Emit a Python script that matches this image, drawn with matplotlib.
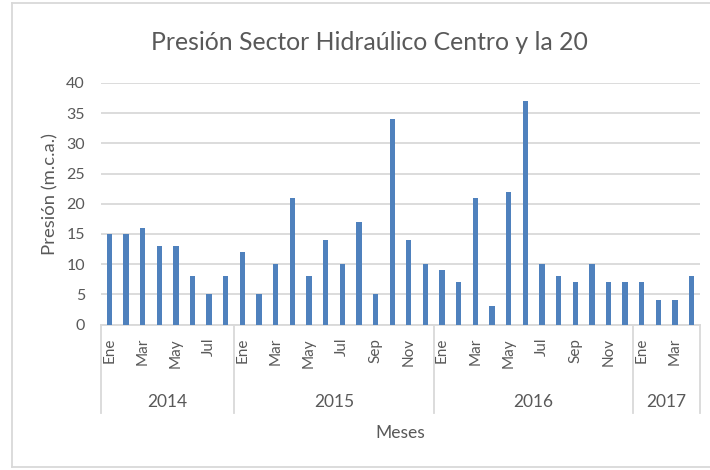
import matplotlib
matplotlib.use("Agg")
import matplotlib.pyplot as plt
import numpy as np
from matplotlib.lines import Line2D
from matplotlib.transforms import blended_transform_factory

plt.rcParams['font.family'] = ['Lato', 'DejaVu Sans']

# ---- data ----
years = ['2014', '2015', '2016', '2017']
month_names = ['Ene', 'Feb', 'Mar', 'Abr', 'May', 'Jun', 'Jul', 'Ago', 'Sep', 'Oct', 'Nov', 'Dic']
values_2014 = [15, 15, 16, 13, 13, 8, 5, 8]
values_2015 = [12, 5, 10, 21, 8, 14, 10, 17, 5, 34, 14, 10]
values_2016 = [9, 7, 21, 3, 22, 37, 10, 8, 7, 10, 7, 7]
values_2017 = [7, 4, 4, 8]
y_ticks = [0, 5, 10, 15, 20, 25, 30, 35, 40]

series = [values_2014, values_2015, values_2016, values_2017]
values = [v for s in series for v in s]
cat_months = [month_names[i] for s in series for i in range(len(s))]
n = len(values)
x = np.arange(n)

W, H = 710, 470
fig = plt.figure(figsize=(W / 100, H / 100), dpi=100)
fig.patch.set_facecolor('white')

def fx(px):
    return px / W

def fy(py):
    return 1 - py / H

left, right, top, bottom = 101, 700, 83, 324.5
ax = fig.add_axes([fx(left), fy(bottom), fx(right - left), (bottom - top) / H])

txt = '#595959'
grid = '#d9d9d9'
bar_c = '#4f81bd'

ax.bar(x, values, width=0.32, color=bar_c, zorder=3)
ax.set_xlim(-0.5, n - 0.5)
ax.set_ylim(0, 40)
ax.set_yticks(y_ticks)
ax.yaxis.grid(True, color=grid, linewidth=1.3, zorder=0)
ax.set_axisbelow(True)
for s in ['top', 'right', 'left']:
    ax.spines[s].set_visible(False)
ax.spines['bottom'].set_color(grid)
ax.spines['bottom'].set_linewidth(1.3)
ax.tick_params(axis='y', length=0, pad=11.5, labelsize=11.5, labelcolor=txt)
ax.set_xticks([])

# multi-level category axis
tr = blended_transform_factory(ax.transData, fig.transFigure)
for i in range(0, n, 2):
    ax.text(i, fy(338), cat_months[i], rotation=90, ha='center', va='top',
            fontsize=11, color=txt, transform=tr)

bounds = [-0.5]
acc = -0.5
for s in series:
    acc += len(s)
    bounds.append(acc)
for b in bounds:
    fig.add_artist(Line2D([b, b], [fy(324.5), fy(413)], transform=tr,
                          color=grid, linewidth=1.3, clip_on=False))
for k, yl in enumerate(years):
    c = (bounds[k] + bounds[k + 1]) / 2
    ax.text(c, fy(402), yl, ha='center', va='center', fontsize=12.5,
            color=txt, transform=tr)

fig.text(fx((left + right) / 2), fy(433), 'Meses', ha='center', va='center',
         fontsize=12.5, color=txt)
fig.text(fx(50), fy(194), 'Presión (m.c.a.)', rotation=90, ha='center',
         va='center', fontsize=13.3, color=txt)
fig.text(fx(369), fy(42), 'Presión Sector Hidraúlico Centro y la 20',
         ha='center', va='center', fontsize=17.8, color=txt)

# chart area border
for (x0, y0, x1, y1) in [(12, 3, 12, 467), (12, 3, 710, 3), (12, 467, 710, 467)]:
    fig.add_artist(Line2D([fx(x0), fx(x1)], [fy(y0), fy(y1)],
                          transform=fig.transFigure, color=grid, linewidth=1.3))

fig.savefig('out.png', dpi=100)
